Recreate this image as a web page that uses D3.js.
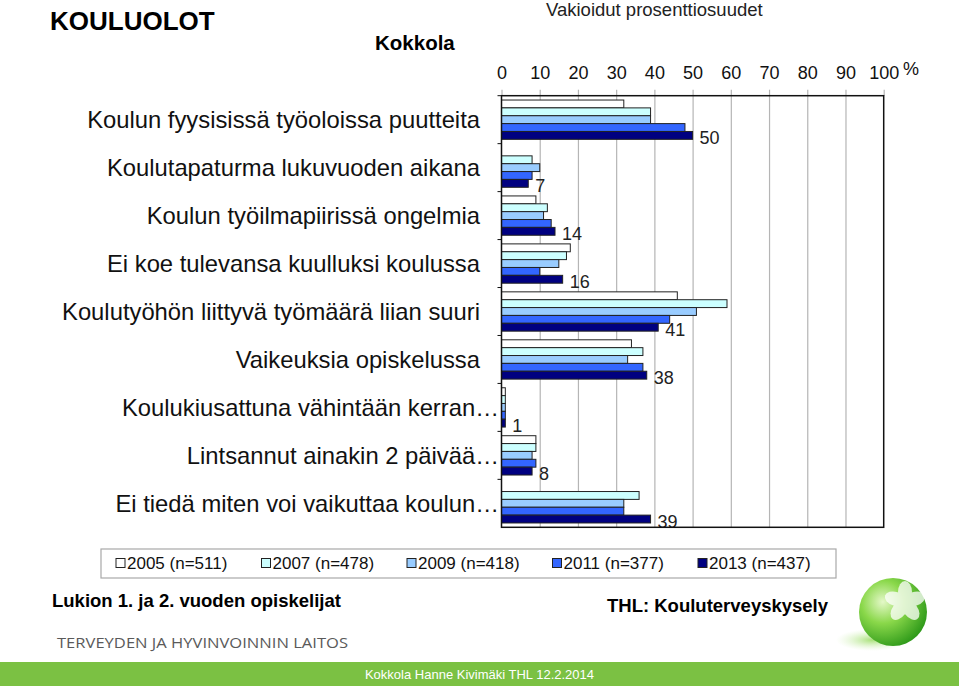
<!DOCTYPE html>
<html><head><meta charset="utf-8">
<script src="https://cdn.jsdelivr.net/npm/d3@7"></script>
<style>
html,body{margin:0;padding:0;background:#fff;}
svg{display:block;font-family:"Liberation Sans",Arial,sans-serif;}
</style></head>
<body><svg id="c" width="959" height="686"></svg>
<script>
const categories = [
  "Koulun fyysisissä työoloissa puutteita",
  "Koulutapaturma lukuvuoden aikana",
  "Koulun työilmapiirissä ongelmia",
  "Ei koe tulevansa kuulluksi koulussa",
  "Koulutyöhön liittyvä työmäärä liian suuri",
  "Vaikeuksia opiskelussa",
  "Koulukiusattuna vähintään kerran…",
  "Lintsannut ainakin 2 päivää…",
  "Ei tiedä miten voi vaikuttaa koulun…"
];
const years = ["2005", "2007", "2009", "2011", "2013"];
const legendLabels = ["2005 (n=511)", "2007 (n=478)", "2009 (n=418)", "2011 (n=377)", "2013 (n=437)"];
const colors = ["#ffffff", "#ccffff", "#99ccff", "#3366ff", "#000080"];
const v2005 = [32, null, 9, 18, 46, 34, 1, 9, null];
const v2007 = [39, 8, 12, 17, 59, 37, 1, 9, 36];
const v2009 = [39, 10, 11, 15, 51, 33, 1, 8, 32];
const v2011 = [48, 8, 13, 10, 44, 37, 1, 9, 32];
const v2013 = [50, 7, 14, 16, 41, 38, 1, 8, 39];
const xTicks = [0, 10, 20, 30, 40, 50, 60, 70, 80, 90, 100];
const series = [v2005, v2007, v2009, v2011, v2013];

const svg = d3.select("#c");
const yTop = 95.7, yBottom = 527.3;
const x = d3.scaleLinear().domain([0, 100]).range([501.5, 883.7]);
const y0 = d3.scaleBand().domain(categories).range([yTop, yBottom]);
const y1 = d3.scaleBand().domain(years).range([0, y0.bandwidth()]).paddingOuter(0.55);

// titles
svg.append("text").attr("x", 50).attr("y", 30).attr("font-size", 26).attr("font-weight", "bold").text("KOULUOLOT");
svg.append("text").attr("x", 375).attr("y", 50).attr("font-size", 20.5).attr("font-weight", "bold").text("Kokkola");
svg.append("text").attr("x", 546).attr("y", 16).attr("font-size", 18.5).attr("fill", "#222").text("Vakioidut prosenttiosuudet");

// gridlines
const grid = svg.append("g").attr("transform", `translate(0,${yTop})`)
  .call(d3.axisTop(x).tickValues(xTicks.filter(t => t > 0 && t < 100)).tickSize(-(yBottom - yTop)).tickFormat(""));
grid.select(".domain").remove();
grid.selectAll("line").attr("stroke", "#b5b5b5").attr("stroke-width", 1.2);

// top axis
const ax = svg.append("g").attr("transform", `translate(0,${yTop})`)
  .call(d3.axisTop(x).tickValues(xTicks).tickSizeInner(6).tickSizeOuter(0).tickPadding(11));
ax.select(".domain").remove();
ax.selectAll("line").attr("stroke", "#b5b5b5").attr("stroke-width", 1.2);
ax.selectAll("text").attr("font-size", 18).attr("fill", "#111").attr("font-family", "Liberation Sans, Arial, sans-serif");
svg.append("text").attr("x", 903).attr("y", 75).attr("font-size", 18).attr("fill", "#111").text("%");

// bars
categories.forEach((c, ci) => {
  series.forEach((s, si) => {
    const v = s[ci];
    if (v == null) return;
    svg.append("rect")
      .attr("x", x(0)).attr("y", y0(c) + y1(years[si]))
      .attr("width", x(v) - x(0)).attr("height", y1.bandwidth())
      .attr("fill", colors[si]).attr("stroke", "#222").attr("stroke-width", 1);
  });
  const v = v2013[ci];
  svg.append("text")
    .attr("x", x(v) + 7)
    .attr("y", y0(c) + y1("2013") + y1.bandwidth() / 2 + 9)
    .attr("font-size", 18).attr("fill", "#222").text(v);
});

// frame
svg.append("rect").attr("x", x(0)).attr("y", yTop).attr("width", x(100) - x(0)).attr("height", yBottom - yTop)
  .attr("fill", "none").attr("stroke", "#111").attr("stroke-width", 1.5);

// left ticks
y0.domain().forEach(c => {
  svg.append("line").attr("x1", x(0) - 4).attr("x2", x(0)).attr("y1", y0(c)).attr("y2", y0(c)).attr("stroke", "#111");
});

// category labels
categories.forEach(c => {
  const trunc = c.endsWith("…");
  svg.append("text")
    .attr("x", trunc ? 499 : 480)
    .attr("y", y0(c) + y0.bandwidth() / 2)
    .attr("dy", "0.35em")
    .attr("text-anchor", "end")
    .attr("font-size", 23.8).attr("fill", "#111")
    .text(c);
});

// legend
svg.append("rect").attr("x", 101).attr("y", 549).attr("width", 735).attr("height", 29)
  .attr("fill", "#fff").attr("stroke", "#a8a8a8").attr("stroke-width", 1.2);
const lg = svg.append("g");
legendLabels.forEach((l, i) => {
  const lx = 116 + i * 145.5;
  lg.append("rect").attr("x", lx).attr("y", 558.5).attr("width", 9).attr("height", 9)
    .attr("fill", colors[i]).attr("stroke", "#222").attr("stroke-width", 1);
  lg.append("text").attr("x", lx + 11).attr("y", 569).attr("font-size", 17).attr("fill", "#111").text(l);
});

// footer texts
svg.append("text").attr("x", 52).attr("y", 607).attr("font-size", 18.5).attr("font-weight", "bold").text("Lukion 1. ja 2. vuoden opiskelijat");
svg.append("text").attr("x", 607).attr("y", 612).attr("font-size", 18.5).attr("font-weight", "bold").text("THL: Kouluterveyskysely");
svg.append("text").attr("x", 57).attr("y", 648).attr("font-size", 14.5).attr("fill", "#5a5a5a")
  .attr("font-family", "Open Sans, sans-serif").attr("textLength", 291).attr("lengthAdjust", "spacingAndGlyphs")
  .text("TERVEYDEN JA HYVINVOINNIN LAITOS");

// green band
svg.append("rect").attr("x", 0).attr("y", 662).attr("width", 959).attr("height", 24).attr("fill", "#7bc143");
svg.append("text").attr("x", 479.5).attr("y", 679).attr("text-anchor", "middle").attr("font-size", 13)
  .attr("fill", "#fff").text("Kokkola Hanne Kivimäki THL 12.2.2014");

// logo sphere
const defs = svg.append("defs");
const rg = defs.append("radialGradient").attr("id", "sph").attr("cx", "35%").attr("cy", "35%").attr("r", "70%");
rg.append("stop").attr("offset", "0%").attr("stop-color", "#e4f8c8");
rg.append("stop").attr("offset", "45%").attr("stop-color", "#8ad84a");
rg.append("stop").attr("offset", "100%").attr("stop-color", "#2f9a1a");
const sh = defs.append("radialGradient").attr("id", "shd");
sh.append("stop").attr("offset", "0%").attr("stop-color", "#9ede6a").attr("stop-opacity", 0.9);
sh.append("stop").attr("offset", "100%").attr("stop-color", "#d8f2c0").attr("stop-opacity", 0);
svg.append("ellipse").attr("cx", 872).attr("cy", 640).attr("rx", 36).attr("ry", 11).attr("fill", "url(#shd)");
svg.append("circle").attr("cx", 893).attr("cy", 612).attr("r", 34).attr("fill", "url(#sph)");
const petals = svg.append("g").attr("transform", "translate(905,602)").attr("fill", "#ffffff").attr("opacity", 0.75);
[0, 72, 144, 216, 288].forEach(a => {
  petals.append("ellipse").attr("cx", 0).attr("cy", -10).attr("rx", 7).attr("ry", 11).attr("transform", `rotate(${a})`);
});
</script></body></html>
